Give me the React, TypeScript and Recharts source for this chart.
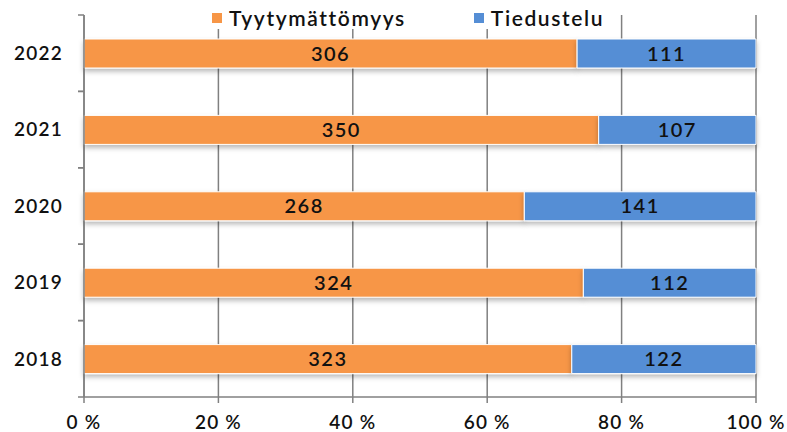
import React from "react";
import { BarChart, Bar, XAxis, YAxis, CartesianGrid, LabelList } from "recharts";

const years = ["2022", "2021", "2020", "2019", "2018"];
const dissatisfaction = [306, 350, 268, 324, 323];
const inquiry = [111, 107, 141, 112, 122];
const xTicks = [0, 0.2, 0.4, 0.6, 0.8, 1];

const ORANGE = "#F79646";
const BLUE = "#558ED5";
const GRID = "#808080";
const FONT = "Lato, 'Noto Sans', sans-serif";

const series = [
  { key: "tyytymattomyys", name: "Tyytymättömyys", color: ORANGE },
  { key: "tiedustelu", name: "Tiedustelu", color: BLUE },
];

const data = years.map((year, i) => ({
  year,
  tyytymattomyys: dissatisfaction[i],
  tiedustelu: inquiry[i],
}));

const W = 787;
const H = 432;
const M = { top: 15, right: 31, left: 0, bottom: 0 };
const Y_W = 84;
const X_H = 35;
const band = (H - M.top - M.bottom - X_H) / years.length;

function YearTick(props: any) {
  const { y, payload } = props;
  const half = band / 2;
  return (
    <g>
      <line x1={Y_W - 6} x2={Y_W} y1={y - half} y2={y - half} stroke={GRID} strokeWidth={1.5} />
      <line x1={Y_W - 6} x2={Y_W} y1={y + half} y2={y + half} stroke={GRID} strokeWidth={1.5} />
      <text
        x={63}
        y={y}
        dy="0.36em"
        textAnchor="end"
        fontFamily={FONT}
        fontSize={19}
        fontWeight={600}
        letterSpacing={1.2}
        fill="#111"
      >
        {payload.value}
      </text>
    </g>
  );
}

function LegendBox() {
  return (
    <div
      style={{
        position: "absolute",
        top: 7,
        left: 207,
        background: "#fff",
        display: "flex",
        gap: 68,
        padding: "0 5px",
        fontFamily: FONT,
        fontSize: 21,
        fontWeight: 600,
        letterSpacing: 1.6,
        color: "#111",
        lineHeight: "22px",
      }}
    >
      {series.map((s) => (
        <div key={s.key} style={{ display: "flex", alignItems: "center", gap: 7 }}>
          <span style={{ width: 10, height: 10, background: s.color, display: "inline-block" }} />
          <span>{s.name}</span>
        </div>
      ))}
    </div>
  );
}

export default function App() {
  return (
    <div style={{ position: "absolute", left: 0, top: 0, width: W, height: H, background: "#fff" }}>
      <BarChart
        width={W}
        height={H}
        data={data}
        layout="vertical"
        stackOffset="expand"
        margin={M}
        barSize={29}
      >
        <defs>
          <filter id="barShadow" x="-5%" y="-30%" width="110%" height="180%">
            <feDropShadow dx="0" dy="3" stdDeviation="2.5" floodColor="#000" floodOpacity="0.28" />
          </filter>
        </defs>
        <CartesianGrid horizontal={false} stroke={GRID} strokeWidth={1.5} />
        <XAxis
          type="number"
          domain={[0, 1]}
          ticks={xTicks}
          height={X_H}
          tickFormatter={(v: number) => `${Math.round(v * 100)} %`}
          stroke={GRID}
          strokeWidth={1.5}
          tickSize={6}
          tickMargin={13}
          tick={{ fontFamily: FONT, fontSize: 19, fontWeight: 600, fill: "#111", letterSpacing: 1.2 }}
        />
        <YAxis
          type="category"
          dataKey="year"
          width={Y_W}
          stroke={GRID}
          strokeWidth={1.5}
          tickLine={false}
          tick={<YearTick />}
        />
        {series.map((s) => (
          <Bar
            key={s.key}
            dataKey={s.key}
            name={s.name}
            stackId="a"
            fill={s.color}
            stroke="#fff"
            strokeWidth={1}
            filter="url(#barShadow)"
            isAnimationActive={false}
          >
            <LabelList
              dataKey={s.key}
              position="center"
              fill="#111"
              fontFamily={FONT}
              fontSize={20}
              fontWeight={600}
              letterSpacing={1.5}
            />
          </Bar>
        ))}
      </BarChart>
      <LegendBox />
    </div>
  );
}
